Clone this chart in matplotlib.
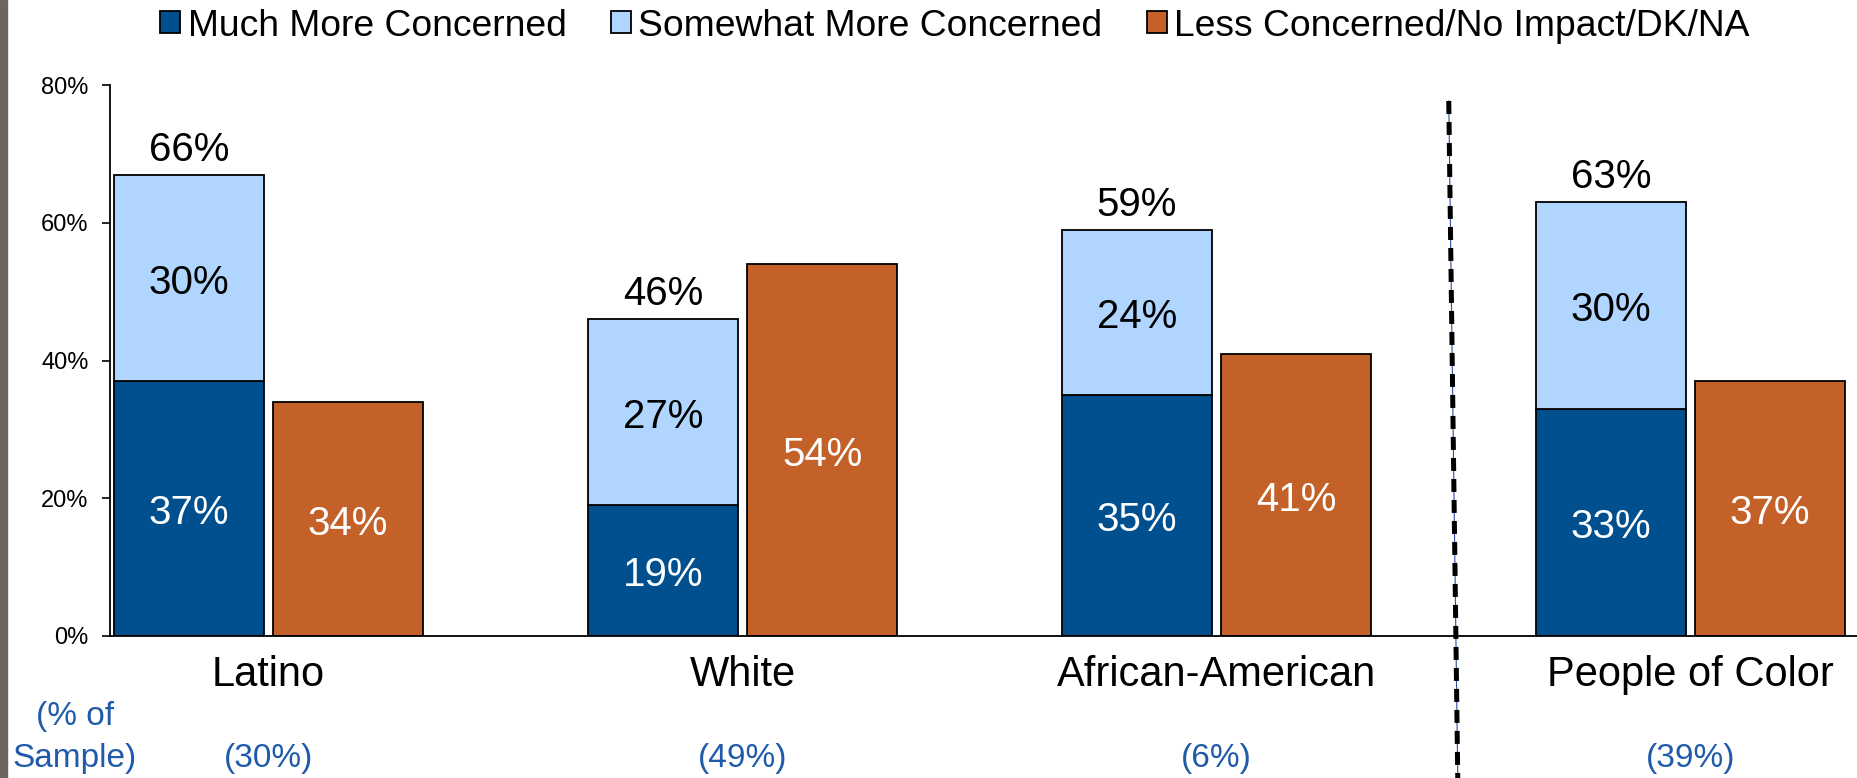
import matplotlib
matplotlib.use("Agg")
import matplotlib.pyplot as plt
from matplotlib.patches import Rectangle
import numpy as np

plt.rcParams['font.family'] = ['Liberation Sans', 'DejaVu Sans']

groups = ['Latino', 'White', 'African-American', 'People of Color']
sample_pct = ['(30%)', '(49%)', '(6%)', '(39%)']
much_more = [37, 19, 35, 33]
somewhat_more = [30, 27, 24, 30]
total_labels = ['66%', '46%', '59%', '63%']
less_concerned = [34, 54, 41, 37]
y_ticks = [0, 20, 40, 60, 80]

c_dark = '#00508F'
c_light = '#B0D6FF'
c_orange = '#C46128'
c_sample = '#1F5BAA'

W, H = 1858, 778
fig = plt.figure(figsize=(W / 100, H / 100), dpi=100)
# axes box, in pixels
ax = fig.add_axes([110 / W, 1 - 636 / H, 1 - 110 / W, (636 - 85) / H])

x = np.arange(len(groups))
bw = 0.316
off = 0.168
nudge = 0.7  # labels sit a bit low in the original

b1 = ax.bar(x - off, much_more, bw, color=c_dark, edgecolor='black', linewidth=1.3,
            label='Much More Concerned')
b2 = ax.bar(x - off, somewhat_more, bw, bottom=much_more, color=c_light,
            edgecolor='black', linewidth=1.3, label='Somewhat More Concerned')
b3 = ax.bar(x + off, less_concerned, bw, color=c_orange, edgecolor='black',
            linewidth=1.3, label='Less Concerned/No Impact/DK/NA')

for i in range(len(groups)):
    ax.text(x[i] - off, much_more[i] / 2 - nudge, f'{much_more[i]}%', ha='center',
            va='center', color='white', fontsize=29)
    ax.text(x[i] - off, much_more[i] + somewhat_more[i] / 2 - nudge,
            f'{somewhat_more[i]}%', ha='center', va='center', color='black',
            fontsize=29)
    ax.text(x[i] - off, much_more[i] + somewhat_more[i] + 4.3 - nudge,
            total_labels[i], ha='center', va='center', color='black', fontsize=29)
    ax.text(x[i] + off, less_concerned[i] / 2 - nudge, f'{less_concerned[i]}%',
            ha='center', va='center', color='white', fontsize=29)

ax.set_xlim((110 - 268.5) / 474, (W - 268.5) / 474)
ax.set_ylim(0, 80)
ax.set_yticks(y_ticks)
ax.set_yticklabels([f'{v}%' for v in y_ticks], fontsize=17)
ax.tick_params(axis='y', direction='out', length=5.5, width=1.2, pad=10)
ax.set_xticks(x)
ax.set_xticklabels(groups, fontsize=30)
ax.tick_params(axis='x', length=0, pad=14)
for s in ['top', 'right']:
    ax.spines[s].set_visible(False)
ax.spines['left'].set_linewidth(1.3)
ax.spines['bottom'].set_linewidth(1.3)

# sample share row
tr = ax.get_xaxis_transform()
for i in range(len(groups)):
    ax.text(x[i], (636 - 758) / 551, sample_pct[i], transform=tr, ha='center',
            va='center', fontsize=24, color=c_sample, clip_on=False)
fig.text(75 / W, 1 - 717 / H, '(% of', ha='center', va='center', fontsize=24,
         color=c_sample)
fig.text(75 / W, 1 - 758 / H, 'Sample)', ha='center', va='center', fontsize=24,
         color=c_sample)

# divider before People of Color
xs = [2.490, 2.509]
ys = [0.971, -0.258]
ax.plot(xs, ys, transform=tr, color='#3050A0', lw=0.8, clip_on=False)
ax.plot(xs, ys, transform=tr, color='black', lw=3.6, dashes=(2.6, 1.6),
        clip_on=False)

# gray strip on left edge
fig.patches.append(Rectangle((0, 0), 7 / W, 1, transform=fig.transFigure,
                             color='#6E665E', zorder=0))

fig.legend(handles=[b1, b2, b3], loc='center', bbox_to_anchor=(0.514, 1 - 26 / H),
           ncol=3, frameon=False, fontsize=26.8, handlelength=0.53,
           handleheight=0.53, handletextpad=0.2, columnspacing=1.2, borderpad=0,
           borderaxespad=0)

fig.savefig('out.png', dpi=100)
